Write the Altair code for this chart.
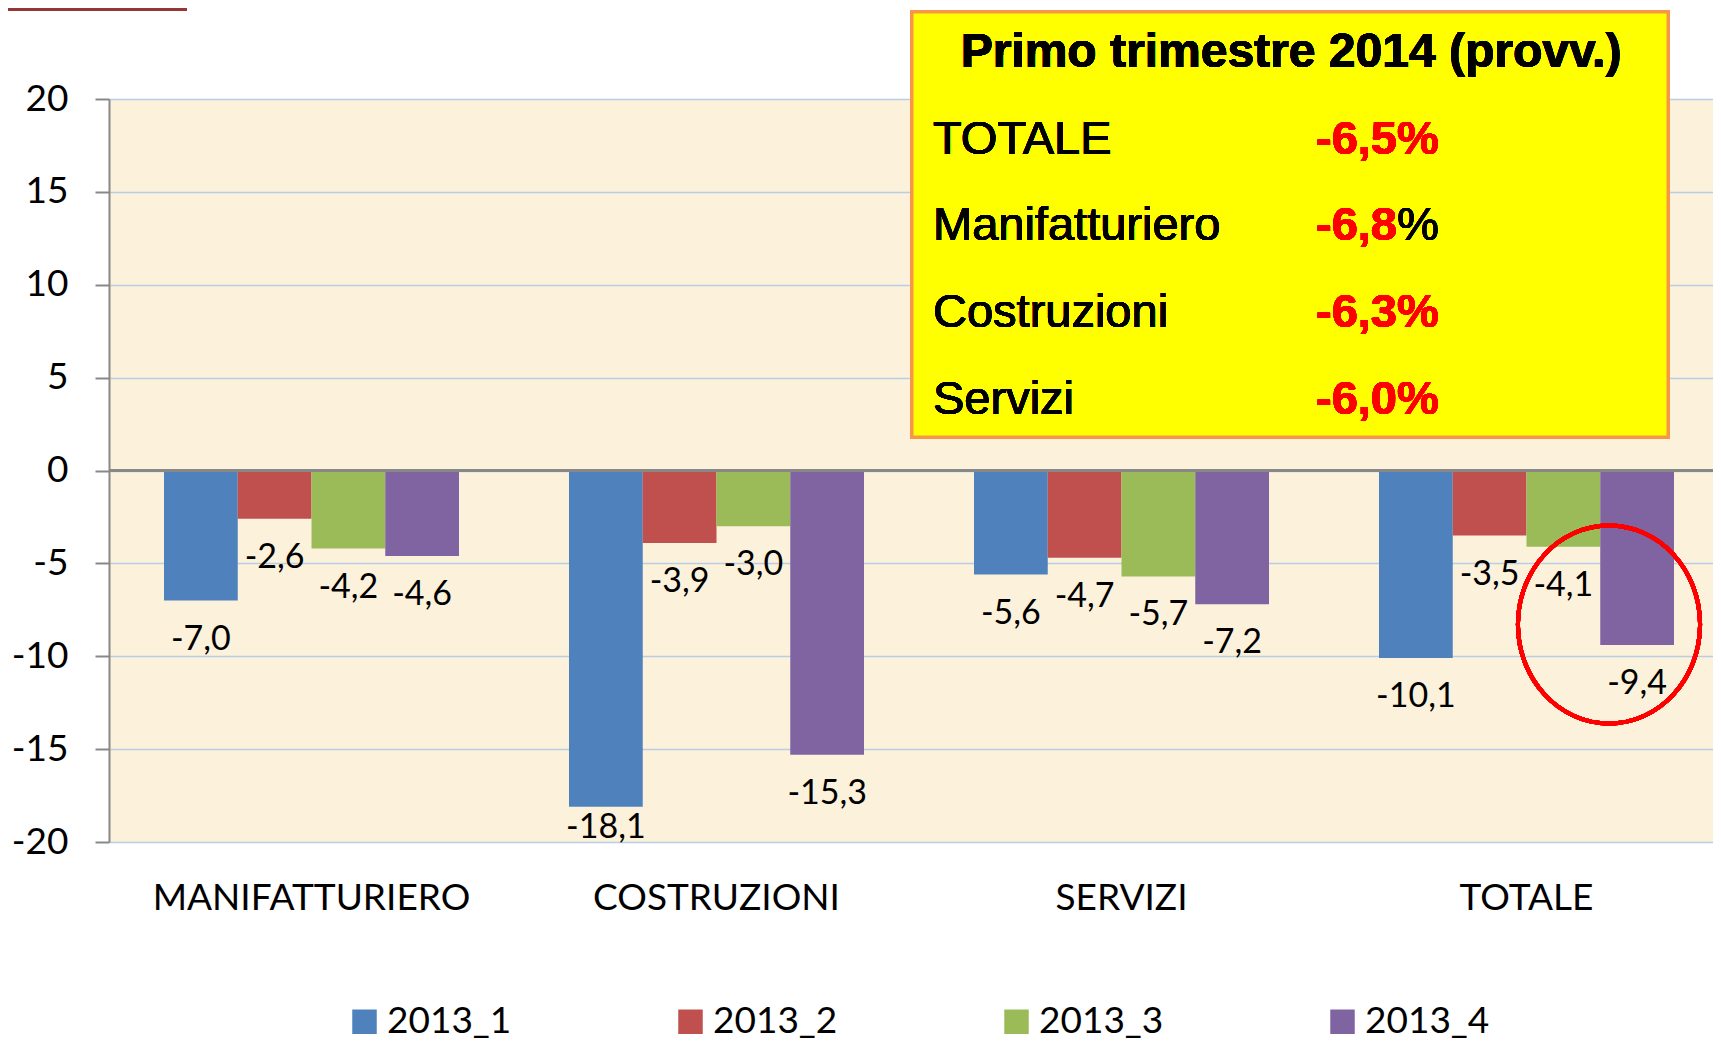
import altair as alt
import pandas as pd

categories = ["MANIFATTURIERO", "COSTRUZIONI", "SERVIZI", "TOTALE"]
quarters = ["2013_1", "2013_2", "2013_3", "2013_4"]
q1 = [-7.0, -18.1, -5.6, -10.1]
q2 = [-2.6, -3.9, -4.7, -3.5]
q3 = [-4.2, -3.0, -5.7, -4.1]
q4 = [-4.6, -15.3, -7.2, -9.4]
colors = ["#4F81BD", "#C0504D", "#9BBB59", "#8064A2"]
y_ticks = [20, 15, 10, 5, 0, -5, -10, -15, -20]

box_title = "Primo trimestre 2014 (provv.)"
box_labels = ["TOTALE", "Manifatturiero", "Costruzioni", "Servizi"]
box_values = ["-6,5", "-6,8", "-6,3", "-6,0"]
box_pct_red = [True, False, True, True]

rows = []
for q, vals in zip(quarters, [q1, q2, q3, q4]):
    for c, v in zip(categories, vals):
        rows.append({"cat": c, "q": q, "v": v,
                     "lab": f"{v:.1f}".replace(".", ","),
                     "lpos": max(v, -17.15)})
df = pd.DataFrame(rows)

PW, PH = 1604, 743
LEFT, TOP = 101, 91

xenc = alt.X("cat:N", sort=categories,
             scale=alt.Scale(range=[0, 1620], paddingInner=0.2716, paddingOuter=0.1358),
             axis=alt.Axis(title=None, domain=False, ticks=False, grid=False,
                           labelFont="Lato", labelFontSize=37, labelColor="#000000",
                           labelPadding=67, labelBaseline="alphabetic", labelAngle=0,
                           labelLimit=1000))
xoff = alt.XOffset("q:N", sort=quarters, scale=alt.Scale(paddingInner=0, paddingOuter=0))
yscale = alt.Scale(domain=[-20, 20], nice=False, zero=False)
yaxis = alt.Axis(title=None, values=y_ticks, grid=True, gridColor="#B9CDE5", gridWidth=1.5,
                 domainColor="#888888", domainWidth=2, tickColor="#888888", tickWidth=2,
                 tickSize=14, labelPadding=27, labelFont="Lato", labelFontSize=37,
                 labelColor="#000000", labelExpr="datum.value + ''")

bars = alt.Chart(df).mark_bar().encode(
    x=xenc, xOffset=xoff,
    y=alt.Y("v:Q", scale=yscale, axis=yaxis),
    color=alt.Color("q:N", sort=quarters, scale=alt.Scale(domain=quarters, range=colors),
                    legend=alt.Legend(title=None, orient="none", legendX=237, legendY=904,
                                      direction="horizontal", symbolType="square",
                                      symbolSize=600, symbolStrokeWidth=0,
                                      labelFont="Lato", labelFontSize=37, labelOffset=4,
                                      columnPadding=160, padding=0, labelColor="#000000",
                                      labelLimit=1000)),
)

labels = alt.Chart(df).mark_text(font="Lato", fontSize=34, dy=39, baseline="middle",
                                 color="#000000").encode(
    x=xenc, xOffset=xoff,
    y=alt.Y("lpos:Q", scale=yscale, axis=yaxis),
    text="lab:N",
)

zero = alt.Chart(df).mark_rule(color="#888888", strokeWidth=2).encode(y=alt.datum(0))

layers = [bars, zero, labels]

# decoration bar top-left
layers.append(alt.Chart(df).mark_rect(color="#953735").encode(
    x=alt.value(-101), x2=alt.value(78), y=alt.value(-91), y2=alt.value(-88)))

# yellow box
layers.append(alt.Chart(df).mark_rect(fill="#FFFF00", stroke="#F79646", strokeWidth=3).encode(
    x=alt.value(803), x2=alt.value(1559), y=alt.value(-87), y2=alt.value(338)))
layers.append(alt.Chart(df).mark_text(text=box_title, font="Liberation Sans", fontWeight="bold",
                                      fontSize=48, align="center", baseline="alphabetic",
                                      color="#000000").encode(
    x=alt.value(1182), y=alt.value(-32)))
row_base = [54.5, 141.2, 227.9, 314.5]
for lab, val, red, yb in zip(box_labels, box_values, box_pct_red, row_base):
    layers.append(alt.Chart(df).mark_text(text=lab, font="Liberation Sans", fontSize=47,
                                          align="left", baseline="alphabetic",
                                          color="#000000").encode(
        x=alt.value(824), y=alt.value(yb)))
    layers.append(alt.Chart(df).mark_text(text=val, font="Liberation Sans", fontWeight="bold",
                                          fontSize=47, align="left", baseline="alphabetic",
                                          color="#FF0000").encode(
        x=alt.value(1207), y=alt.value(yb)))
    layers.append(alt.Chart(df).mark_text(text="%", font="Liberation Sans",
                                          fontWeight="bold" if red else "normal",
                                          fontSize=47, align="left", baseline="alphabetic",
                                          color="#FF0000" if red else "#000000").encode(
        x=alt.value(1288), y=alt.value(yb)))

# red ellipse highlight
ellipse_path = "M -0.92 0 A 0.92 1 0 1 0 0.92 0 A 0.92 1 0 1 0 -0.92 0 Z"
layers.append(alt.Chart(df).mark_point(shape=ellipse_path, size=39204, filled=False,
                                       stroke="#FF0000", strokeWidth=4, opacity=1).encode(
    x=alt.value(1500), y=alt.value(525.5)))

chart = alt.layer(*layers).properties(
    width=PW, height=PH,
    autosize=alt.AutoSizeParams(type="none"),
    padding={"left": LEFT, "top": TOP, "right": 0, "bottom": 198},
    background="#FFFFFF",
).configure_view(fill="#FCF1DB", strokeWidth=0)

chart.save("out.html", embed_options={"renderer": "svg", "actions": False})
